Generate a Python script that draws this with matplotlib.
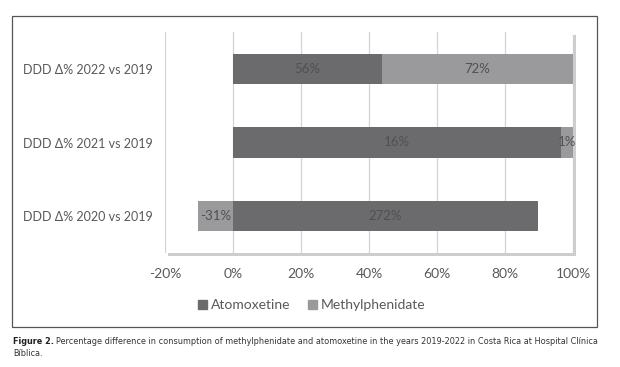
import numpy as np
import matplotlib
matplotlib.use("Agg")
import matplotlib.pyplot as plt
import matplotlib.patheffects as pe
from matplotlib.patches import Rectangle

# Data (bottom to top)
categories = ["DDD Δ% 2020 vs 2019", "DDD Δ% 2021 vs 2019", "DDD Δ% 2022 vs 2019"]
atomoxetine = [272, 16, 56]
methylphenidate = [-31, 0.6, 72]
series_names = ["Atomoxetine", "Methylphenidate"]
xticks = [-0.2, 0, 0.2, 0.4, 0.6, 0.8, 1.0]

dark = "#6b6b6e"
light = "#9a9a9c"
txt = "#595959"

plt.rcParams['font.family'] = ['Lato', 'DejaVu Sans']

fig = plt.figure(figsize=(6.2, 3.67), dpi=100)
W, H = 620, 367

# outer frame
fig.patches.append(Rectangle((12 / W, 1 - 327 / H), 585 / W, 311 / H, transform=fig.transFigure,
                             fill=False, edgecolor="#555555", linewidth=0.9))

ax = fig.add_axes([165 / W, 1 - 253 / H, 408 / W, 221 / H])
ax.patch.set_path_effects([pe.SimplePatchShadow(offset=(2.5, -2.5), shadow_rgbFace="#909090", alpha=0.45),
                           pe.Normal()])

# 100% stacked shares (Excel style: share of sum of absolute values)
a = np.array(atomoxetine, dtype=float)
m = np.array(methylphenidate, dtype=float)
tot = np.abs(a) + np.abs(m)
y = np.arange(len(categories))
pos = np.zeros(len(y))
neg = np.zeros(len(y))
for vals, col in [(a, dark), (m, light)]:
    share = vals / tot
    left = np.where(share >= 0, pos, neg)
    ax.barh(y, share, left=left, height=0.41, color=col, zorder=3)
    for yi, l, s, v in zip(y, left, share, vals):
        ax.text(l + s / 2, yi, f"{v:.0f}%", ha="center", va="center", fontsize=9.5,
                color="#505050", zorder=4)
    pos = np.where(share >= 0, pos + share, pos)
    neg = np.where(share < 0, neg + share, neg)

ax.set_xlim(-0.2, 1.0)
ax.set_ylim(-0.5, 2.5)
ax.set_xticks(xticks)
ax.set_xticklabels([f"{t * 100:.0f}%" for t in xticks])
ax.set_yticks(y)
ax.set_yticklabels(categories)
ax.grid(axis="x", color="#d4d4d4", linewidth=0.9, zorder=0)
for s in ax.spines.values():
    s.set_visible(False)
ax.tick_params(length=0, labelsize=10, colors=txt)
ax.tick_params(axis="y", labelsize=9.0, pad=9)
ax.tick_params(axis="x", pad=11)

handles = [Rectangle((0, 0), 1, 1, color=c) for c in (dark, light)]
fig.legend(handles, series_names, loc="center", bbox_to_anchor=(312 / W, 1 - 305 / H), ncol=2,
           frameon=False, handlelength=0.6, handleheight=0.6, handletextpad=0.3,
           columnspacing=1.3, prop={"size": 10}, labelcolor=txt)

# caption
cap_font = ['DejaVu Sans']
fig.canvas.draw()
r = fig.canvas.get_renderer()
t1 = fig.text(13 / W, 1 - 342 / H, "Figure 2.", fontsize=5.9, fontweight="bold", family=cap_font,
              color="#222222", va="center")
bb = t1.get_window_extent(renderer=r)
fig.text(bb.x1 / W + 2 / W, 1 - 342 / H,
         "Percentage difference in consumption of methylphenidate and atomoxetine in the years 2019-2022 in Costa Rica at Hospital Clínica",
         fontsize=5.9, family=cap_font, color="#333333", va="center")
fig.text(13 / W, 1 - 353 / H, "Bíblica.", fontsize=5.9, family=cap_font, color="#333333", va="center")

fig.savefig("out.png", dpi=100)
